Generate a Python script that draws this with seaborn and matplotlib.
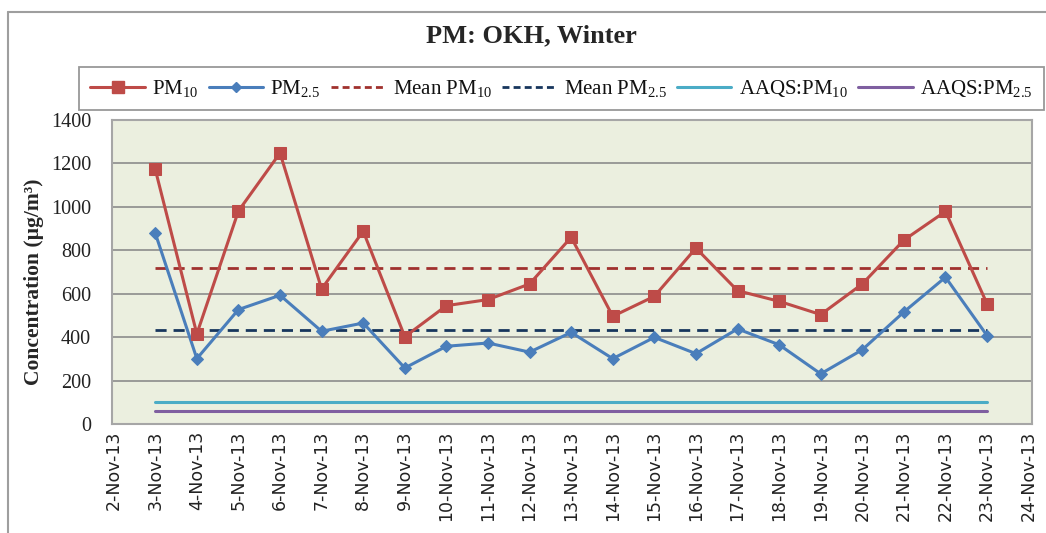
import matplotlib
matplotlib.use("Agg")
import matplotlib.pyplot as plt
from matplotlib.lines import Line2D
import seaborn as sns
import pandas as pd

# ---- data ----
tick_days = list(range(2, 25))
tick_labels = [f"{d}-Nov-13" for d in tick_days]
days = list(range(3, 24))
pm10 = [1173, 415, 981, 1248, 622, 888, 402, 545, 573, 645, 860,
        496, 588, 810, 614, 565, 504, 645, 847, 979, 553]
pm25 = [879, 301, 527, 593, 427, 465, 258, 358, 373, 331, 422,
        301, 399, 324, 438, 365, 231, 342, 516, 676, 407]
mean_pm10 = 719
mean_pm25 = 431
aaqs_pm10 = 100
aaqs_pm25 = 60

series_names = ["PM$_{10}$", "PM$_{2.5}$", "Mean PM$_{10}$", "Mean PM$_{2.5}$",
                "AAQS:PM$_{10}$", "AAQS:PM$_{2.5}$"]

df = pd.DataFrame({
    "day": days,
    "pm10": pm10,
    "pm25": pm25,
    "mean10": [mean_pm10] * len(days),
    "mean25": [mean_pm25] * len(days),
    "aaqs10": [aaqs_pm10] * len(days),
    "aaqs25": [aaqs_pm25] * len(days),
})

sns.set_theme(style="white")
plt.rcParams["font.family"] = ["Liberation Serif", "DejaVu Serif"]
plt.rcParams["mathtext.fontset"] = "custom"
plt.rcParams["mathtext.rm"] = "Liberation Serif"
plt.rcParams["mathtext.it"] = "Liberation Serif:italic"
plt.rcParams["mathtext.bf"] = "Liberation Serif:bold"

W, H = 1046, 533
fig = plt.figure(figsize=(W / 100, H / 100), dpi=100)
fig.patch.set_facecolor("white")
ax = fig.add_axes([112 / W, 1 - 424 / H, (1032 - 112) / W, (424 - 120) / H])
ax.set_facecolor("#EBEFDF")

c10 = "#BE4B48"
c25 = "#4A7EBB"
cm10 = "#A0312E"
cm25 = "#17365D"
ca10 = "#4BACC6"
ca25 = "#7F5FA0"

# horizontal reference lines
sns.lineplot(data=df, x="day", y="aaqs10", ax=ax, color=ca10, lw=2.2, label=series_names[4])
sns.lineplot(data=df, x="day", y="aaqs25", ax=ax, color=ca25, lw=2.2, label=series_names[5])
sns.lineplot(data=df, x="day", y="mean10", ax=ax, color=cm10, lw=2.0, label=series_names[2])
sns.lineplot(data=df, x="day", y="mean25", ax=ax, color=cm25, lw=2.0, label=series_names[3])
for ln in ax.lines[2:4]:
    ln.set_linestyle((0, (4, 2.5)))

sns.lineplot(data=df, x="day", y="pm25", ax=ax, color=c25, lw=2.2, marker="D",
             markersize=6, markeredgecolor=c25, label=series_names[1])
sns.lineplot(data=df, x="day", y="pm10", ax=ax, color=c10, lw=2.2, marker="s",
             markersize=8, markeredgecolor=c10, label=series_names[0])

ax.set_xlim(1.96, 24.08)
ax.set_ylim(0, 1400)
ax.set_yticks(range(0, 1401, 200))
ax.set_xticks(tick_days)
ax.set_xticklabels(tick_labels, rotation=90, fontsize=12.5, family="DejaVu Sans",
                   color="#222222")
ax.tick_params(axis="y", labelsize=14.5, labelcolor="#222222", length=4, width=1,
               direction="out", pad=11, color="#A6A6A6")
ax.tick_params(axis="x", length=0, pad=5)
ax.grid(axis="y", color="#8C8C8C", lw=1.2)
ax.set_axisbelow(True)
for s in ax.spines.values():
    s.set_color("#A6A6A6")
    s.set_linewidth(1.5)

ax.set_xlabel("")
ax.set_ylabel("Concentration (µg/m³)", fontsize=15.5, fontweight="bold")
ax.yaxis.set_label_coords(-0.074, 0.467)
ax.get_legend().remove()

# legend
handles = [
    Line2D([], [], color=c10, lw=2.2, marker="s", markersize=8),
    Line2D([], [], color=c25, lw=2.2, marker="D", markersize=5),
    Line2D([], [], color=cm10, lw=2.0, linestyle=(0, (2.5, 1.5))),
    Line2D([], [], color=cm25, lw=2.0, linestyle=(0, (2.5, 1.5))),
    Line2D([], [], color=ca10, lw=2.2),
    Line2D([], [], color=ca25, lw=2.2),
]
leg = fig.legend(handles, series_names, ncol=6, mode="expand",
                 bbox_to_anchor=(79 / W, 1 - 113 / H, (1044 - 79) / W, 49 / H),
                 loc="center", borderaxespad=0, fontsize=15, handlelength=2.6,
                 handletextpad=0.35, columnspacing=0.4, frameon=True, fancybox=False,
                 borderpad=0.55)
leg.get_frame().set_edgecolor("#7F7F7F")
leg.get_frame().set_linewidth(1.3)
for t in leg.get_texts():
    t.set_color("#111111")

fig.text(531 / W, 1 - 36 / H, "PM: OKH, Winter", ha="center", va="center",
         fontsize=19, fontweight="bold")

# outer chart border (left and top visible)
fig.add_artist(Line2D([8 / W, 8 / W], [0, 1 - 12 / H], color="#9E9E9E", lw=1.5))
fig.add_artist(Line2D([8 / W, 1], [1 - 12 / H, 1 - 12 / H], color="#9E9E9E", lw=1.5))

fig.savefig("out.png", dpi=100)
